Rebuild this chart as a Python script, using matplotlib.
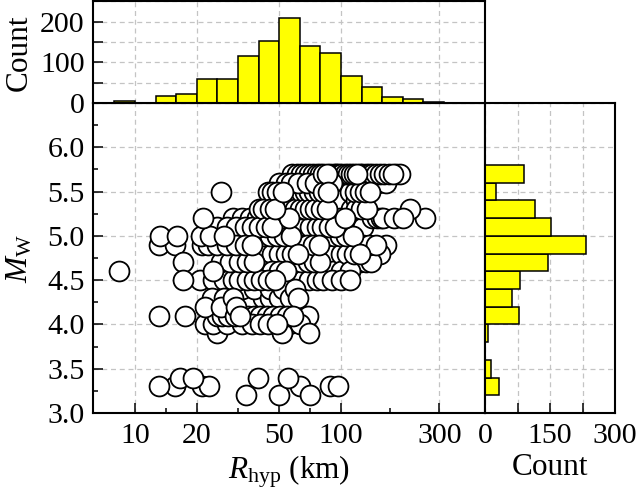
import numpy as np
import matplotlib
matplotlib.use('Agg')
import matplotlib.pyplot as plt
from matplotlib.ticker import FixedLocator, MultipleLocator, FuncFormatter, NullFormatter

# Distancias (km) leidas por fila de magnitud
r_57 = [58, 61, 64, 67, 70, 73, 76, 79, 82, 85, 88, 92, 95, 97, 100, 104, 108, 112, 116,
        120, 123, 127, 132, 137, 142, 148, 155, 162, 170, 178, 185, 193]
r_56 = [50, 54, 57, 62, 68, 75, 90, 105, 120, 140, 151, 165]
r_55 = [26, 44, 46, 49, 52, 55, 58, 61, 64, 67, 70, 74, 78, 82, 86, 90, 95, 100, 105, 111,
        117, 124, 131, 138]
r_54 = [46, 55, 66, 80, 98, 118]
r_53 = [40, 42, 45, 48, 51, 54, 57, 60, 63, 67, 71, 75, 80, 85, 90, 95, 100, 106, 112, 118,
        125, 133, 216]
r_52 = [21.4, 30, 33, 36, 39, 42, 45, 48, 52, 56, 60, 64, 68, 72, 77, 82, 87, 93, 99, 105,
        112, 119, 126, 134, 142, 150, 156, 160, 180, 200, 255]
r_51 = [25, 28, 31, 34, 37, 40, 43, 46, 50, 54, 58, 62, 66, 71, 76, 81, 87, 93, 100, 107,
        115, 123, 128]
r_50 = [13.2, 15.9, 21, 23, 27, 30, 33, 36, 39, 42, 45, 49, 53, 57, 61, 65, 70, 75, 80, 86,
        92, 99, 106, 114, 122]
r_49 = [13.1, 15.6, 21.1, 22.5, 25, 28, 31, 34, 37, 40, 43, 47, 51, 55, 59, 63, 68, 73, 78,
        84, 90, 97, 104, 112, 120, 128, 137, 148, 166]
r_48 = [34, 37, 40, 43, 46, 50, 54, 58, 62, 66, 71, 76, 81, 87, 93, 100, 107, 115, 123, 132,
        142, 154]
r_47 = [17.1, 26, 29, 32, 35, 38, 41, 44, 48, 52, 56, 60, 64, 69, 74, 79, 85, 91, 98, 106,
        114, 123, 132, 140]
r_46 = [8.4, 23.9, 27, 30, 33, 36, 39, 42, 46, 50, 54, 58, 62, 67, 72, 78, 84, 91, 100, 111]
r_45 = [17.1, 20.7, 24, 27, 30, 32, 35, 38, 41, 44, 48, 52, 56, 60, 65, 70, 76, 82, 90, 100, 111]
r_44 = [28, 33, 38, 45, 52, 60]
r_43 = [23.5, 27, 30, 32.4, 36, 41.7, 45, 50, 56.5, 62]
r_42 = [21.9, 26, 31, 37, 44, 53.5]
r_41 = [13.1, 17.5, 24.9, 26.5, 28.4, 30.5, 32.4, 34, 35.5, 38, 40.4, 43.5, 46.9, 50.5, 54.5,
        58.6, 63, 69.3]
r_40 = [21.9, 24, 28, 33, 37, 40.4, 44, 49, 56, 63]
r_39 = [25.1, 51.6, 70]
r_34 = [16.5, 19.2, 39.7, 55.3]
r_33 = [13.1, 15.6, 21.1, 22.8, 63.2, 88, 97]
r_32 = [34.5, 50.2, 70.7]

filas = [(5.7, r_57), (5.6, r_56), (5.5, r_55), (5.4, r_54), (5.3, r_53), (5.2, r_52),
         (5.1, r_51), (5.0, r_50), (4.9, r_49), (4.8, r_48), (4.7, r_47), (4.6, r_46),
         (4.5, r_45), (4.4, r_44), (4.3, r_43), (4.2, r_42), (4.1, r_41), (4.0, r_40),
         (3.9, r_39), (3.4, r_34), (3.3, r_33), (3.2, r_32)]

# Histograma superior (bins en log10 R)
r_bin_edges_log = [0.9, 1.0, 1.1, 1.2, 1.3, 1.4, 1.5, 1.6, 1.7, 1.8, 1.9, 2.0, 2.1, 2.2,
                   2.3, 2.4, 2.5]
r_counts = [4, 0, 18, 23, 58, 60, 116, 153, 209, 141, 124, 66, 40, 15, 11, 3]

# Histograma derecho (bins en Mw)
m_bin_edges = [3.2, 3.4, 3.6, 3.8, 4.0, 4.2, 4.4, 4.6, 4.8, 5.0, 5.2, 5.4, 5.6, 5.8]
m_counts = [33, 14, 0, 8, 78, 62, 81, 145, 233, 152, 116, 25, 91]

x_major = [10, 20, 50, 100, 300]
x_minor = [14.14, 31.6, 70.7, 173]

plt.rcParams['font.family'] = 'Liberation Serif'
plt.rcParams['mathtext.fontset'] = 'custom'
plt.rcParams['mathtext.rm'] = 'Liberation Serif'
plt.rcParams['mathtext.it'] = 'Liberation Serif:italic'

TICK_FS = 21.5
LABEL_FS = 22.5
grid_kw = dict(color='#c4c4c4', linestyle=(0, (4, 3)), linewidth=0.9)


def estilo(ax):
    for s in ax.spines.values():
        s.set_linewidth(1.5)
    ax.tick_params(which='both', direction='in', width=1.1, labelsize=TICK_FS)
    ax.tick_params(which='major', length=7)
    ax.tick_params(which='minor', length=3.5)
    ax.set_axisbelow(True)


fig = plt.figure(figsize=(6.42, 4.96), dpi=100)
ax = fig.add_axes([0.1449, 0.1673, 0.6106, 0.625])
ax_top = fig.add_axes([0.1449, 0.7923, 0.6106, 0.2047], sharex=ax)
ax_right = fig.add_axes([0.7555, 0.1673, 0.2025, 0.625], sharey=ax)

# Dispersion (orden de dibujo intercalado para que el solapamiento sea irregular)
mw = np.concatenate([np.full(len(r), m) for m, r in filas])
rh = np.concatenate([np.array(r, dtype=float) for m, r in filas])
n = len(rh)
orden = np.argsort((np.arange(n) * 37) % n)
ax.scatter(rh[orden], mw[orden], s=205, facecolors='white', edgecolors='black',
           linewidths=1.3, zorder=3)

ax.set_xscale('log')
ax.set_xlim(6.25, 500)
ax.set_ylim(3.0, 6.5)
ax.xaxis.set_major_locator(FixedLocator(x_major))
ax.xaxis.set_minor_locator(FixedLocator(x_minor))
ax.xaxis.set_major_formatter(FuncFormatter(lambda v, p: f'{v:.0f}'))
ax.xaxis.set_minor_formatter(NullFormatter())
ax.yaxis.set_major_locator(MultipleLocator(0.5))
ax.yaxis.set_minor_locator(MultipleLocator(0.25))
ax.yaxis.set_major_formatter(FuncFormatter(lambda v, p: f'{v:.1f}' if v < 6.3 else ''))
ax.grid(True, which='major', **grid_kw)
estilo(ax)
ax.tick_params(axis='x', pad=7)
ax.tick_params(axis='y', pad=6)
ax.set_xlabel(r'$R_\mathrm{hyp}$ (km)', fontsize=LABEL_FS, labelpad=3)
ax.set_ylabel(r'$M_\mathrm{W}$', fontsize=LABEL_FS)
ax.yaxis.set_label_coords(-0.15, 0.5)

# Histograma superior
lefts = 10 ** np.array(r_bin_edges_log[:-1])
widths = 10 ** np.array(r_bin_edges_log[1:]) - lefts
ax_top.bar(lefts, r_counts, width=widths, align='edge', color='#ffff00',
           edgecolor='black', linewidth=1.1)
ax_top.set_ylim(0, 250)
ax_top.yaxis.set_major_locator(MultipleLocator(50))
ax_top.yaxis.set_major_formatter(FuncFormatter(lambda v, p: f'{v:.0f}' if v % 100 == 0 and v < 250 else ''))
ax_top.grid(True, which='major', **grid_kw)
estilo(ax_top)
ax_top.tick_params(axis='y', pad=6)
ax_top.tick_params(axis='x', which='both', bottom=False, labelbottom=False)
ax_top.set_ylabel('Count', fontsize=LABEL_FS)
ax_top.yaxis.set_label_coords(-0.15, 0.5)

# Histograma derecho
ax_right.barh(m_bin_edges[:-1], m_counts, height=0.2, align='edge', color='#ffff00',
              edgecolor='black', linewidth=1.1)
ax_right.set_xlim(0, 300)
ax_right.xaxis.set_major_locator(MultipleLocator(75))
ax_right.xaxis.set_major_formatter(FuncFormatter(lambda v, p: f'{v:.0f}' if v % 150 == 0 else ''))
ax_right.grid(True, which='major', **grid_kw)
estilo(ax_right)
ax_right.tick_params(axis='y', which='both', left=False, labelleft=False)
ax_right.tick_params(axis='x', pad=7)
ax_right.set_xlabel('Count', fontsize=LABEL_FS, labelpad=3)

fig.savefig('out.png', dpi=100)
